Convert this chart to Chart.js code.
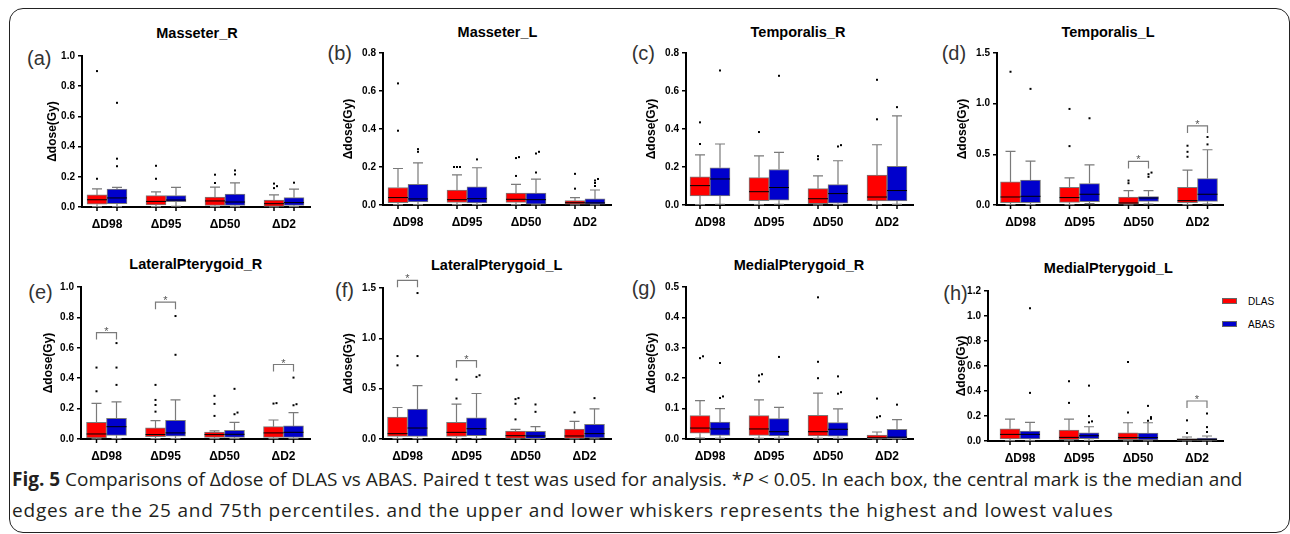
<!DOCTYPE html>
<html>
<head>
<meta charset="utf-8">
<script src="https://cdn.jsdelivr.net/npm/chart.js@4.4.1/dist/chart.umd.min.js"></script>
<style>
  html, body { margin: 0; padding: 0; background: #fff; }
  #page { position: relative; width: 1290px; height: 534px; overflow: hidden; font-family: 'Liberation Sans', Arial, sans-serif; }
  #frame { position: absolute; left: 9px; top: 8px; width: 1281px; height: 525px; box-sizing: border-box; border: 1.5px solid #222; border-radius: 14px; }
  canvas { position: absolute; }
  .ttl { position: absolute; font-weight: bold; font-size: 14.5px; transform: translate(-50%, -50%); white-space: nowrap; color: #000; }
  .tag { position: absolute; font-size: 20px; transform: translateY(-50%); color: #333; white-space: nowrap; }
  .lg-box { position: absolute; width: 15px; height: 6px; box-sizing: border-box; border: 1px solid #666; }
  .lg-txt { position: absolute; font-size: 10px; transform: translateY(-50%); color: #000; }
  #caption { position: absolute; left: 12px; top: 464px; font-family: 'Open Sans', sans-serif; font-size: 19px; line-height: 31px; color: #231f20; white-space: nowrap; }
  #caption .l2 { letter-spacing: 0.8px; }
</style>
</head>
<body>
<div id="page">
  <div id="frame"></div>
  <div class="lg-box" style="left:1222px; top:298px; background:#ff0000;"></div>
  <div class="lg-txt" style="left:1248px; top:301px;">DLAS</div>
  <div class="lg-box" style="left:1222px; top:321px; background:#0000cc;"></div>
  <div class="lg-txt" style="left:1248px; top:324px;">ABAS</div>
  <div id="caption"><span class="l1"><b>Fig. 5</b> Comparisons of Δdose of DLAS vs ABAS. Paired t test was used for analysis. *<i>P</i> &lt; 0.05. In each box, the central mark is the median and</span><br><span class="l2">edges are the 25 and 75th percentiles. and the upper and lower whiskers represents the highest and lowest values</span></div>
</div>
<script>
const categories = ['ΔD98', 'ΔD95', 'ΔD50', 'ΔD2'];

// rows: [min, q1, median, q3, max] for ΔD98, ΔD95, ΔD50, ΔD2
const masR_DLAS = [[0.002, 0.018, 0.048, 0.080, 0.120], [0.002, 0.013, 0.037, 0.075, 0.100], [0.002, 0.011, 0.040, 0.066, 0.132], [0.001, 0.004, 0.022, 0.046, 0.080]];
const masR_ABAS = [[0.002, 0.022, 0.060, 0.119, 0.130], [0.005, 0.035, 0.046, 0.075, 0.130], [0.002, 0.011, 0.033, 0.086, 0.160], [0.002, 0.011, 0.029, 0.062, 0.119]];
const masR_DLAS_out = [[0.187, 0.90], [0.187, 0.273], [0.159, 0.214], [0.125, 0.138, 0.155]];
const masR_ABAS_out = [[0.27, 0.32, 0.69], [], [0.216, 0.242], [0.161]];
const masR_sig = [];

const masL_DLAS = [[0.002, 0.012, 0.039, 0.092, 0.192], [0.002, 0.014, 0.028, 0.079, 0.159], [0.002, 0.014, 0.030, 0.063, 0.109], [0.001, 0.004, 0.012, 0.023, 0.039]];
const masL_ABAS = [[0.002, 0.016, 0.032, 0.109, 0.222], [0.002, 0.011, 0.033, 0.095, 0.196], [0.001, 0.004, 0.028, 0.063, 0.136], [0.001, 0.004, 0.011, 0.032, 0.079]];
const masL_DLAS_out = [[0.391, 0.640], [0.2, 0.2, 0.2], [0.153, 0.247, 0.252], [0.086, 0.164]];
const masL_ABAS_out = [[0.28, 0.294], [0.24], [0.171, 0.271, 0.28], [0.10, 0.116, 0.129, 0.137]];
const masL_sig = [];

const temR_DLAS = [[0.002, 0.048, 0.102, 0.148, 0.264], [0.002, 0.023, 0.070, 0.144, 0.259], [0.001, 0.007, 0.033, 0.086, 0.153], [0.002, 0.021, 0.042, 0.157, 0.317]];
const temR_ABAS = [[0.004, 0.048, 0.137, 0.196, 0.321], [0.004, 0.025, 0.092, 0.187, 0.277], [0.002, 0.009, 0.060, 0.107, 0.233], [0.003, 0.021, 0.076, 0.204, 0.469]];
const temR_DLAS_out = [[0.321, 0.435], [0.384], [0.241, 0.257], [0.451, 0.659]];
const temR_ABAS_out = [[0.708], [0.68], [0.308, 0.315], [0.515]];
const temR_sig = [];

const temL_DLAS = [[0.003, 0.023, 0.079, 0.228, 0.529], [0.003, 0.026, 0.073, 0.175, 0.268], [0.001, 0.007, 0.020, 0.079, 0.142], [0.003, 0.023, 0.043, 0.175, 0.344]];
const temL_ABAS = [[0.003, 0.023, 0.086, 0.245, 0.433], [0.013, 0.033, 0.106, 0.211, 0.396], [0.010, 0.036, 0.069, 0.083, 0.142], [0.010, 0.036, 0.106, 0.261, 0.545]];
const temL_DLAS_out = [[1.315], [0.581, 0.948], [0.215, 0.241], [0.476, 0.525, 0.585]];
const temL_ABAS_out = [[1.146], [0.856], [0.278, 0.304, 0.32], [0.598, 0.671]];
const temL_sig = [[2, 0.43], [3, 0.78]];

const latR_DLAS = [[0.001, 0.007, 0.033, 0.110, 0.235], [0.002, 0.015, 0.029, 0.073, 0.121], [0.002, 0.011, 0.029, 0.046, 0.053], [0.002, 0.011, 0.040, 0.081, 0.125]];
const latR_ABAS = [[0.003, 0.024, 0.081, 0.136, 0.244], [0.003, 0.018, 0.040, 0.123, 0.257], [0.002, 0.011, 0.031, 0.057, 0.110], [0.002, 0.011, 0.044, 0.086, 0.174]];
const latR_DLAS_out = [[0.314, 0.47], [0.18, 0.224, 0.257, 0.356], [0.152, 0.231, 0.284], [0.233, 0.236]];
const latR_ABAS_out = [[0.356, 0.47, 0.631], [0.554, 0.809], [0.163, 0.174, 0.33], [0.222, 0.229, 0.404]];
const latR_sig = [[0, 0.70], [1, 0.90], [3, 0.49]];

const latL_DLAS = [[0.003, 0.026, 0.053, 0.218, 0.313], [0.003, 0.026, 0.066, 0.165, 0.346], [0.001, 0.007, 0.033, 0.079, 0.096], [0.001, 0.007, 0.030, 0.099, 0.175]];
const latL_ABAS = [[0.003, 0.026, 0.109, 0.297, 0.531], [0.005, 0.033, 0.102, 0.211, 0.452], [0.001, 0.003, 0.030, 0.076, 0.122], [0.002, 0.010, 0.053, 0.145, 0.300]];
const latL_DLAS_out = [[0.732, 0.824], [0.402, 0.59], [0.195, 0.35, 0.396, 0.406], [0.264]];
const latL_ABAS_out = [[0.824, 1.45], [0.617, 0.633], [0.27, 0.343], [0.406]];
const latL_sig = [[0, 1.576], [1, 0.778]];

const medR_DLAS = [[0.003, 0.019, 0.036, 0.077, 0.126], [0.002, 0.012, 0.033, 0.077, 0.129], [0.002, 0.010, 0.024, 0.078, 0.151], [0.000, 0.001, 0.004, 0.013, 0.023]];
const medR_ABAS = [[0.002, 0.012, 0.033, 0.056, 0.100], [0.002, 0.010, 0.024, 0.067, 0.104], [0.002, 0.009, 0.032, 0.054, 0.099], [0.000, 0.001, 0.006, 0.032, 0.064]];
const medR_DLAS_out = [[0.266, 0.272], [0.189, 0.209, 0.213], [0.2, 0.254, 0.466], [0.071, 0.075, 0.133]];
const medR_ABAS_out = [[0.135, 0.14, 0.25], [0.27], [0.149, 0.154, 0.206], [0.113]];
const medR_sig = [];

const medL_DLAS = [[0.003, 0.016, 0.053, 0.098, 0.175], [0.002, 0.011, 0.029, 0.088, 0.175], [0.001, 0.011, 0.027, 0.066, 0.146], [0.000, 0.005, 0.011, 0.019, 0.032]];
const medL_ABAS = [[0.003, 0.016, 0.053, 0.080, 0.149], [0.005, 0.019, 0.042, 0.066, 0.114], [0.001, 0.008, 0.027, 0.064, 0.146], [0.000, 0.005, 0.013, 0.024, 0.040]];
const medL_DLAS_out = [[], [0.305, 0.478], [0.228, 0.632], [0.064, 0.165]];
const medL_ABAS_out = [[0.385, 1.062], [0.149, 0.157, 0.199, 0.443], [0.162, 0.178, 0.191, 0.281], [0.072, 0.111, 0.22]];
const medL_sig = [[3, 0.32]];

// axis box of each panel on the page (left/right = x axis ends, top/bottom = y max / zero)
const panels = [
  { tag: '(a)', title: 'Masseter_R', dlas: masR_DLAS, abas: masR_ABAS, dOut: masR_DLAS_out, aOut: masR_ABAS_out, sig: masR_sig, yMax: 1.0, yStep: 0.2,
    left: 82, top: 56, right: 310, bottom: 207, first: 25, yw: 40, tx: 197, ty: 33, gx: 27, gy: 58 },
  { tag: '(b)', title: 'Masseter_L', dlas: masL_DLAS, abas: masL_ABAS, dOut: masL_DLAS_out, aOut: masL_ABAS_out, sig: masL_sig, yMax: 0.8, yStep: 0.2,
    left: 383, top: 53, right: 611, bottom: 205, first: 25, yw: 45, tx: 497.5, ty: 32, gx: 327.5, gy: 53.3 },
  { tag: '(c)', title: 'Temporalis_R', dlas: temR_DLAS, abas: temR_ABAS, dOut: temR_DLAS_out, aOut: temR_ABAS_out, sig: temR_sig, yMax: 0.8, yStep: 0.2,
    left: 686, top: 53, right: 913, bottom: 205, first: 24, yw: 45, tx: 798, ty: 31.7, gx: 631.7, gy: 53.3 },
  { tag: '(d)', title: 'Temporalis_L', dlas: temL_DLAS, abas: temL_ABAS, dOut: temL_DLAS_out, aOut: temL_ABAS_out, sig: temL_sig, yMax: 1.5, yStep: 0.5,
    left: 997, top: 53, right: 1223, bottom: 205, first: 23.5, yw: 45, tx: 1108, ty: 31.7, gx: 941.7, gy: 53.3 },
  { tag: '(e)', title: 'LateralPterygoid_R', dlas: latR_DLAS, abas: latR_ABAS, dOut: latR_DLAS_out, aOut: latR_ABAS_out, sig: latR_sig, yMax: 1.0, yStep: 0.2,
    left: 81, top: 287, right: 310, bottom: 439, first: 25.5, yw: 43, tx: 195.8, ty: 264.3, gx: 28.3, gy: 291.7 },
  { tag: '(f)', title: 'LateralPterygoid_L', dlas: latL_DLAS, abas: latL_ABAS, dOut: latL_DLAS_out, aOut: latL_ABAS_out, sig: latL_sig, yMax: 1.5, yStep: 0.5,
    left: 383, top: 288, right: 611, bottom: 439, first: 24.5, yw: 45, tx: 496.7, ty: 265, gx: 335, gy: 290 },
  { tag: '(g)', title: 'MedialPterygoid_R', dlas: medR_DLAS, abas: medR_ABAS, dOut: medR_DLAS_out, aOut: medR_ABAS_out, sig: medR_sig, yMax: 0.5, yStep: 0.1,
    left: 686, top: 287, right: 913, bottom: 439, first: 24, yw: 45, tx: 799, ty: 265, gx: 631.7, gy: 288.3 },
  { tag: '(h)', title: 'MedialPterygoid_L', dlas: medL_DLAS, abas: medL_ABAS, dOut: medL_DLAS_out, aOut: medL_ABAS_out, sig: medL_sig, yMax: 1.2, yStep: 0.2,
    left: 988, top: 291, right: 1223, bottom: 441, first: 32, yw: 37, tx: 1108.3, ty: 268.3, gx: 943.3, gy: 293.3 }
];

const GROUP_PX = 59;   // distance between category centres
const PAD_TOP = 26, PAD_RIGHT = 6, X_AXIS_H = 30;

Chart.defaults.font.family = "'Liberation Sans', Arial, sans-serif";
Chart.defaults.color = '#000';

// whiskers, medians, outlier dots and significance brackets on top of the floating bars
function boxPlugin(sig) {
  return {
    id: 'boxWhiskers',
    afterDatasetsDraw(chart) {
      const ctx = chart.ctx;
      const ys = chart.scales.y;
      const base = chart.chartArea.bottom;
      chart.data.datasets.forEach((ds, d) => {
        const meta = chart.getDatasetMeta(d);
        meta.data.forEach((bar, i) => {
          const [lo, q1, med, q3, hi] = ds.stats[i];
          const x = bar.x, w = bar.width;
          ctx.save();
          ctx.strokeStyle = '#7a7a7a';
          ctx.lineWidth = 1.2;
          ctx.beginPath();
          ctx.moveTo(x, ys.getPixelForValue(q3));
          ctx.lineTo(x, ys.getPixelForValue(hi));
          ctx.moveTo(x - w / 4, ys.getPixelForValue(hi));
          ctx.lineTo(x + w / 4, ys.getPixelForValue(hi));
          ctx.moveTo(x, ys.getPixelForValue(q1));
          ctx.lineTo(x, ys.getPixelForValue(lo));
          ctx.moveTo(x - w / 4, ys.getPixelForValue(lo));
          ctx.lineTo(x + w / 4, ys.getPixelForValue(lo));
          ctx.stroke();

          ctx.strokeStyle = '#000';
          ctx.lineWidth = 1;
          ctx.beginPath();
          ctx.moveTo(x - w / 2, ys.getPixelForValue(med));
          ctx.lineTo(x + w / 2, ys.getPixelForValue(med));
          ctx.stroke();

          // small tick under the axis for every box
          ctx.lineWidth = 1.5;
          ctx.beginPath();
          ctx.moveTo(x, base);
          ctx.lineTo(x, base + 4);
          ctx.stroke();

          // outliers, spread sideways when they sit on top of each other
          ctx.fillStyle = '#000';
          const placed = [];
          ds.outliers[i].forEach(v => {
            const py = ys.getPixelForValue(v);
            const k = placed.filter(p => Math.abs(p - py) < 2.2).length;
            placed.push(py);
            const dx = k === 0 ? 0 : (k % 2 ? 3 : -3) * Math.ceil(k / 2);
            ctx.fillRect(x + dx - 1, py - 1, 2, 2);
          });
          ctx.restore();
        });
      });

      sig.forEach(([cat, v]) => {
        const a = chart.getDatasetMeta(0).data[cat];
        const b = chart.getDatasetMeta(1).data[cat];
        const py = ys.getPixelForValue(v);
        ctx.save();
        ctx.strokeStyle = '#7a7a7a';
        ctx.lineWidth = 1.2;
        ctx.beginPath();
        ctx.moveTo(a.x, py + 7);
        ctx.lineTo(a.x, py);
        ctx.lineTo(b.x, py);
        ctx.lineTo(b.x, py + 7);
        ctx.stroke();
        ctx.fillStyle = '#555';
        ctx.font = "11px 'Liberation Sans', Arial, sans-serif";
        ctx.textAlign = 'center';
        ctx.textBaseline = 'alphabetic';
        ctx.fillText('*', (a.x + b.x) / 2, py + 2);
        ctx.restore();
      });
    }
  };
}

const page = document.getElementById('page');

panels.forEach(p => {
  const t = document.createElement('div');
  t.className = 'ttl';
  t.style.left = p.tx + 'px';
  t.style.top = p.ty + 'px';
  t.textContent = p.title;
  page.appendChild(t);

  const g = document.createElement('div');
  g.className = 'tag';
  g.style.left = p.gx + 'px';
  g.style.top = p.gy + 'px';
  g.textContent = p.tag;
  page.appendChild(g);

  const cLeft = p.left - p.yw;
  const cTop = p.top - PAD_TOP;
  const cv = document.createElement('canvas');
  cv.width = p.right - cLeft + PAD_RIGHT;
  cv.height = PAD_TOP + (p.bottom - p.top) + X_AXIS_H;
  cv.style.left = cLeft + 'px';
  cv.style.top = cTop + 'px';
  page.appendChild(cv);

  const xMin = -p.first / GROUP_PX;
  const xMax = xMin + (p.right - p.left) / GROUP_PX;

  new Chart(cv, {
    type: 'bar',
    data: {
      datasets: [
        { label: 'DLAS', data: p.dlas.map((s, i) => ({ x: i, y: [s[1], s[3]] })), stats: p.dlas, outliers: p.dOut,
          backgroundColor: '#ff0000', borderColor: '#7a7a7a', borderWidth: 1, borderSkipped: false, barThickness: 20 },
        { label: 'ABAS', data: p.abas.map((s, i) => ({ x: i, y: [s[1], s[3]] })), stats: p.abas, outliers: p.aOut,
          backgroundColor: '#0000cc', borderColor: '#7a7a7a', borderWidth: 1, borderSkipped: false, barThickness: 20 }
      ]
    },
    options: {
      responsive: false,
      animation: false,
      events: [],
      layout: { padding: { top: PAD_TOP, right: PAD_RIGHT, left: 0, bottom: 0 } },
      plugins: { legend: { display: false }, tooltip: { enabled: false } },
      scales: {
        x: {
          type: 'linear', min: xMin, max: xMax, offset: false,
          afterBuildTicks: s => { s.ticks = categories.map((c, i) => ({ value: i })); },
          afterFit: s => { s.height = X_AXIS_H; },
          ticks: { callback: v => categories[v], font: { size: 12, weight: 'bold' }, color: '#000', padding: 10, maxRotation: 0, autoSkip: false },
          grid: { display: false, drawTicks: false },
          border: { display: true, color: '#000', width: 2 }
        },
        y: {
          min: 0, max: p.yMax,
          afterFit: s => { s.width = p.yw; },
          ticks: { stepSize: p.yStep, callback: v => v.toFixed(1), font: { size: 10, weight: 'bold' }, color: '#000', padding: 3 },
          grid: { drawOnChartArea: false, drawTicks: true, tickLength: 4, color: '#000', lineWidth: 1.5 },
          border: { display: true, color: '#000', width: 2 },
          title: { display: true, text: 'Δdose(Gy)', font: { size: 12, weight: 'bold' }, color: '#000', padding: { top: 3, bottom: 0 } }
        }
      }
    },
    plugins: [boxPlugin(p.sig)]
  });
});
</script>
</body>
</html>
